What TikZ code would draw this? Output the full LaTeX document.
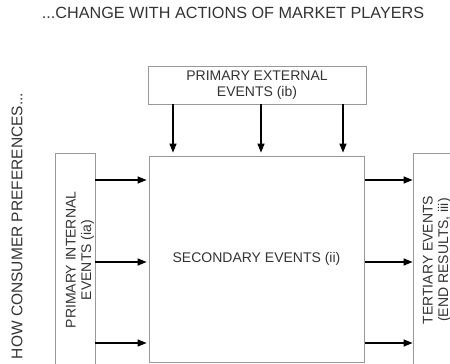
\documentclass[tikz,border=0pt]{standalone}
\usepackage{fontspec}
\setmainfont{Liberation Sans}
\usepackage{xcolor}
\usetikzlibrary{arrows.meta, positioning}
\definecolor{boxgray}{gray}{0.6}
\definecolor{txtgray}{gray}{0.2}

\begin{document}
\begin{tikzpicture}[x=1pt, y=-1pt,
    evbox/.style={draw=boxgray, line width=0.8pt, inner sep=0pt, text=txtgray,
                  font=\fontsize{14}{15.5}\selectfont, align=center},
    evtext/.style={text=txtgray, font=\fontsize{14}{15.5}\selectfont, align=center, rotate=90},
    flow/.style={-{Triangle[length=9pt,width=7pt]}, line width=1.3pt, black},
    lbl/.style={text=txtgray, font=\fontsize{15.5}{18}\selectfont}]
    \useasboundingbox (0,0) rectangle (450,364);
    \node[lbl, font=\fontsize{16.2}{18}\selectfont] (title) at (233,13) {...CHANGE WITH ACTIONS OF MARKET PLAYERS};
    \node[lbl, rotate=90] (side) at (17,226) {HOW CONSUMER PREFERENCES...};
    % boxes
    \node[evbox, minimum width=218pt, minimum height=38pt] (ext) at (257,85) {PRIMARY EXTERNAL\\EVENTS (ib)};
    \node[evbox, minimum width=215pt, minimum height=206pt] (sec) at (256.5,259) {SECONDARY EVENTS (ii)};
    \node[evbox, minimum width=40pt, minimum height=230pt] (int) at (75,268) {};
    \node[evbox, minimum width=70pt, minimum height=230pt] (ter) at (448,268) {};
    \node[evtext] (intlbl) at (80,260) {PRIMARY INTERNAL\\EVENTS (ia)};
    \node[evtext] (terlbl) at (437,260) {TERTIARY EVENTS\\(END RESULTS, iii)};
    % arrows
    \foreach \x in {173,261,343}
        \draw[flow, shorten >=3pt] (ext.south -| \x,0) -- (sec.north -| \x,0);
    \foreach \y in {180,262,343} {
        \draw[flow, shorten >=2pt] (int.east |- 0,\y) -- (sec.west |- 0,\y);
        \draw[flow, shorten <=1pt] (sec.east |- 0,\y) -- (ter.west |- 0,\y);
    }
\end{tikzpicture}
\end{document}
